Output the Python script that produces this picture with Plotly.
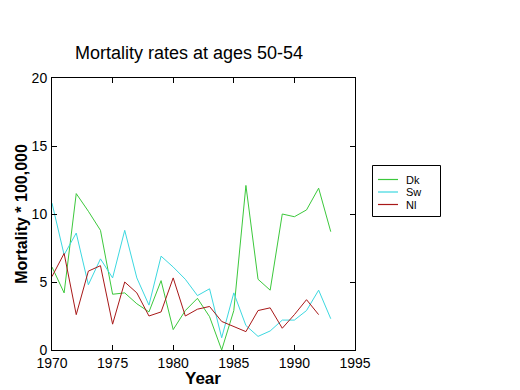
import plotly.graph_objects as go

years = list(range(1970, 1994))
dk = [6.1, 4.2, 11.5, 10.2, 8.8, 4.1, 4.2, 3.4, 2.8, 5.1, 1.5, 2.9, 3.8, 2.45, 0.0, 2.9, 12.1, 5.2, 4.4, 10.0, 9.8, 10.3, 11.9, 8.7]
sw = [10.8, 7.0, 8.6, 4.8, 6.7, 5.3, 8.8, 5.3, 3.3, 6.9, 6.1, 5.2, 4.0, 4.5, 0.9, 4.2, 1.8, 1.0, 1.4, 2.2, 2.2, 2.9, 4.4, 2.3]
years_nl = list(range(1970, 1993))
nl = [5.4, 7.1, 2.6, 5.8, 6.2, 1.9, 5.0, 4.2, 2.5, 2.8, 5.3, 2.5, 3.0, 3.2, 2.1, 1.7, 1.35, 2.9, 3.1, 1.6, 2.6, 3.7, 2.6]

names = ["Dk", "Sw", "Nl"]
colors = ["#3cc83c", "#3cd8e0", "#a81818"]
series = [(years, dk), (years, sw), (years_nl, nl)]

fig = go.Figure()
for (xs, ys), name, col in zip(series, names, colors):
    fig.add_trace(go.Scatter(x=xs, y=ys, mode="lines", name=name, line=dict(color=col, width=1),
                             showlegend=False))

axis_common = dict(showgrid=False, zeroline=False, showline=True, linecolor="black", linewidth=1,
                   mirror="ticks", ticks="inside", ticklen=5, tickcolor="black", automargin=False,
                   tickfont=dict(family="Arial", size=14, color="black"))
fig.update_xaxes(range=[1970, 1995], tickvals=[1970, 1975, 1980, 1985, 1990, 1995],
                 ticklabelstandoff=0,
                 **axis_common)
fig.update_yaxes(range=[0, 20], tickvals=[0, 5, 10, 15, 20],
                 ticklabelstandoff=1,
                 title=dict(text="<b>Mortality * 100,000</b>", font=dict(family="Arial", size=16, color="black"), standoff=0),
                 **axis_common)

# page has an 8px body margin; figure is 512x382 placed at (8, 8)
OFF = 8
W, H = 520 - OFF, 390 - OFF

# page pixel -> paper coordinate helpers (plot area spans page x 52..355, y 78..350)
def px_x(p):
    return (p - 52) / 303
def px_y(p):
    return (350 - p) / 272

shapes = [dict(type="rect", xref="paper", yref="paper", x0=px_x(372.5), x1=px_x(440.5), y0=px_y(216.5), y1=px_y(165.5),
               line=dict(color="black", width=1), fillcolor="rgba(0,0,0,0)", layer="above")]
annotations = [dict(text="<b>Year</b>", xref="paper", yref="paper", x=px_x(203), y=px_y(378), xanchor="center",
                    yanchor="middle", showarrow=False, font=dict(family="Arial", size=17, color="black"))]
for i, (name, col) in enumerate(zip(names, colors)):
    yy = 179.5 + i * 12.5
    shapes.append(dict(type="line", xref="paper", yref="paper", x0=px_x(378), x1=px_x(398), y0=px_y(yy), y1=px_y(yy),
                       line=dict(color=col, width=1.2), layer="above"))
    annotations.append(dict(text=name, xref="paper", yref="paper", x=px_x(405), y=px_y(yy), xanchor="left",
                            yanchor="middle", showarrow=False, borderpad=0,
                            font=dict(family="Arial", size=11, color="black")))

fig.update_layout(
    width=W, height=H,
    margin=dict(l=52 - OFF, r=W - (355 - OFF), t=78 - OFF, b=H - (350 - OFF), autoexpand=False),
    paper_bgcolor="white", plot_bgcolor="white",
    title=dict(text="Mortality rates at ages 50-54", x=(189 - OFF) / W, xanchor="center", y=1 - (53 - OFF) / H,
               yanchor="middle", font=dict(family="Arial", size=18, color="black")),
    shapes=shapes,
    annotations=annotations,
    showlegend=False,
)
fig.write_html("out.html")
